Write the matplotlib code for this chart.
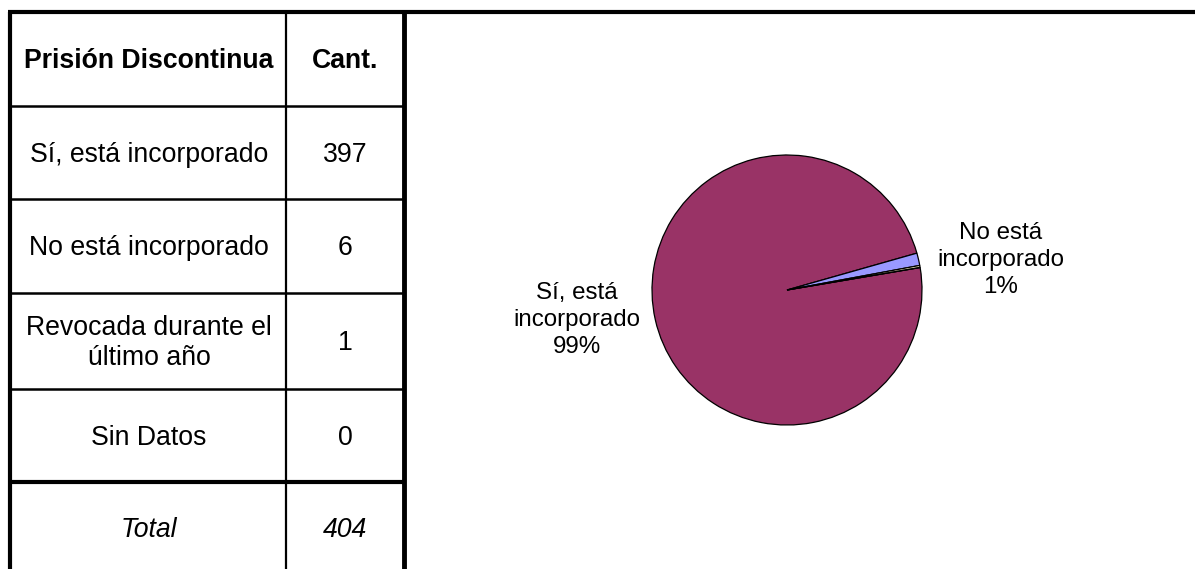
import matplotlib.pyplot as plt

plt.rcParams['font.family'] = ['Liberation Sans', 'DejaVu Sans']

# datos
categorias = ['Sí, está incorporado', 'No está incorporado',
              'Revocada durante el\núltimo año', 'Sin Datos']
cantidades = [397, 6, 1, 0]
total = 404
etiquetas_torta = ['Sí, está\nincorporado\n99%', 'No está\nincorporado\n1%']
colores = ['#993366', '#9999FF', '#FFFFCC', '#CCFFFF']

W, H = 1195, 569
fig = plt.figure(figsize=(W / 100, H / 100), dpi=100)

# tabla en coordenadas de pixel
tab = fig.add_axes([0, 0, 1, 1])
tab.set_xlim(0, W)
tab.set_ylim(H, 0)
tab.axis('off')

x_left, x_mid, x_right = 10, 286, 404
filas = [12, 106, 199, 293, 389, 482, 578]

# bordes
tab.plot([8, W], [12, 12], color='black', lw=3, solid_capstyle='butt')
tab.plot([x_left, x_left], [12, H], color='black', lw=3, solid_capstyle='butt')
tab.plot([x_right, x_right], [12, H], color='black', lw=3.5, solid_capstyle='butt')
tab.plot([x_mid, x_mid], [12, H], color='black', lw=1.6, solid_capstyle='butt')
for y in filas[1:-1]:
    lw = 3 if y == 482 else 1.8
    tab.plot([x_left, x_right], [y, y], color='black', lw=lw, solid_capstyle='butt')

c1 = (x_left + x_mid) / 2 + 1
c2 = (x_mid + x_right) / 2
fs = 19.2

def centro(i):
    return (filas[i] + filas[i + 1]) / 2 + 2

tab.text(c1, centro(0), 'Prisión Discontinua', ha='center', va='center',
         fontsize=fs, fontweight='bold')
tab.text(c2, centro(0), 'Cant.', ha='center', va='center',
         fontsize=fs, fontweight='bold')
for i, (cat, val) in enumerate(zip(categorias, cantidades)):
    tab.text(c1, centro(i + 1), cat, ha='center', va='center',
             fontsize=fs, linespacing=1.2)
    tab.text(c2, centro(i + 1), str(val), ha='center', va='center', fontsize=fs)
tab.text(c1, 530, 'Total', ha='center', va='center', fontsize=fs, style='italic')
tab.text(c2, 530, str(total), ha='center', va='center', fontsize=fs, style='italic')

# torta
cx, cy, r = 787, 290, 135
ax = fig.add_axes([(cx - r) / W, (H - cy - r) / H, 2 * r / W, 2 * r / H])
ax.pie(cantidades, colors=colores, startangle=9.6, counterclock=False,
       wedgeprops=dict(edgecolor='black', linewidth=0.9))
ax.set_xlim(-1, 1)
ax.set_ylim(-1, 1)
ax.axis('off')

ax.text(-1.555, -0.22, etiquetas_torta[0], ha='center', va='center',
        fontsize=17.4, linespacing=1.3)
ax.text(1.585, 0.22, etiquetas_torta[1], ha='center', va='center',
        fontsize=17.4, linespacing=1.3)

fig.savefig('out.png', dpi=100)
